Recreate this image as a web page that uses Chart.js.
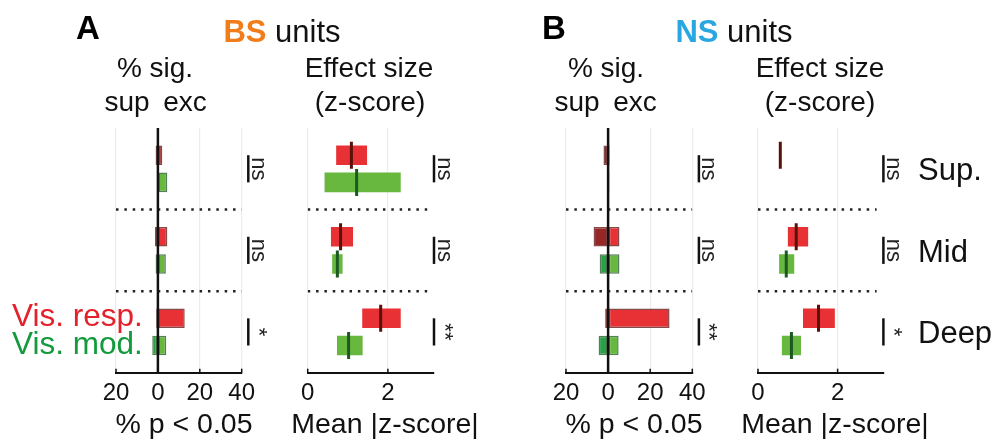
<!DOCTYPE html>
<html>
<head>
<meta charset="utf-8">
<script src="https://cdn.jsdelivr.net/npm/chart.js@4.4.1/dist/chart.umd.min.js"></script>
<style>
  body { margin: 0; background: #fff; font-family: "Liberation Sans", Arial, sans-serif; }
  #wrap { position: relative; width: 997px; height: 445px; overflow: hidden; }
  canvas { position: absolute; left: 0; top: 0; }
  .t { position: absolute; white-space: nowrap; line-height: 1; color: #111; transform: translate(-50%, -50%); }
  .l { position: absolute; white-space: nowrap; line-height: 1; transform: translate(0, -50%); }
</style>
</head>
<body>
<div id="wrap">
  <canvas id="bsPct" width="997" height="445"></canvas>
  <canvas id="bsEff" width="997" height="445"></canvas>
  <canvas id="nsPct" width="997" height="445"></canvas>
  <canvas id="nsEff" width="997" height="445"></canvas>

  <div class="l" style="left:76px; top:27px; font-size:33px; font-weight:bold;">A</div>
  <div class="t" style="left:282px; top:31px; font-size:31px;"><b style="color:#f07d1a">BS</b> units</div>
  <div class="t" style="left:155px; top:68px; font-size:28px;">% sig.</div>
  <div class="t" style="left:127px; top:102px; font-size:28px;">sup</div>
  <div class="t" style="left:185px; top:102px; font-size:28px;">exc</div>
  <div class="t" style="left:369px; top:68px; font-size:28px;">Effect size</div>
  <div class="t" style="left:370px; top:102px; font-size:28px;">(z-score)</div>
  <div class="t" style="left:184px; top:423px; font-size:28.5px;">% p &lt; 0.05</div>
  <div class="t" style="left:385px; top:423px; font-size:28.5px;">Mean |z-score|</div>

  <div class="l" style="left:542px; top:27px; font-size:33px; font-weight:bold;">B</div>
  <div class="t" style="left:734px; top:31px; font-size:31px;"><b style="color:#2aa6e0">NS</b> units</div>
  <div class="t" style="left:606px; top:68px; font-size:28px;">% sig.</div>
  <div class="t" style="left:577px; top:102px; font-size:28px;">sup</div>
  <div class="t" style="left:635px; top:102px; font-size:28px;">exc</div>
  <div class="t" style="left:820px; top:68px; font-size:28px;">Effect size</div>
  <div class="t" style="left:820px; top:102px; font-size:28px;">(z-score)</div>
  <div class="t" style="left:634px; top:423px; font-size:28.5px;">% p &lt; 0.05</div>
  <div class="t" style="left:835px; top:423px; font-size:28.5px;">Mean |z-score|</div>

  <div class="l" style="left:918px; top:169px; font-size:31px; color:#111;">Sup.</div>
  <div class="l" style="left:918px; top:251px; font-size:31px; color:#111;">Mid</div>
  <div class="l" style="left:918px; top:332px; font-size:31px; color:#111;">Deep</div>

  <div class="l" style="left:12px; top:316px; font-size:31.5px; color:#e4202a;">Vis. resp.</div>
  <div class="l" style="left:12px; top:344px; font-size:31.5px; color:#129a3d;">Vis. mod.</div>
</div>

<script>
// depth groups, top to bottom
const depths = ["Sup.", "Mid", "Deep"];
const redRows = [0, 3, 6];     // y slot of the "Vis. resp." bar in each group
const greenRows = [1, 4, 7];   // y slot of the "Vis. mod." bar
const sepRows = [2, 5];

// BS units, % of units with p < 0.05 (sup = suppressed, drawn negative; exc = excited)
const bsSupResp = [-1.1, -1.4, -0.8];
const bsExcResp = [2.1, 4.5, 12.8];
const bsSupMod = [0, -1.1, -2.7];
const bsExcMod = [4.5, 3.8, 4.0];

// BS units, effect size (mean |z-score|): box low, box high, mean
const bsEffRespLo = [0.71, 0.58, 1.36];
const bsEffRespHi = [1.48, 1.13, 2.32];
const bsEffRespMean = [1.09, 0.82, 1.82];
const bsEffModLo = [0.42, 0.61, 0.73];
const bsEffModHi = [2.32, 0.87, 1.37];
const bsEffModMean = [1.22, 0.74, 1.02];

// NS units
const nsSupResp = [-2.2, -6.9, -1.4];
const nsExcResp = [0.7, 5.4, 29.2];
const nsSupMod = [0, -4.0, -4.5];
const nsExcMod = [0.6, 5.4, 5.0];

const nsEffRespLo = [0.56, 0.75, 1.13];
const nsEffRespHi = [0.56, 1.26, 1.93];
const nsEffRespMean = [0.56, 0.96, 1.52];
const nsEffModLo = [null, 0.53, 0.60];
const nsEffModHi = [null, 0.91, 1.08];
const nsEffModMean = [null, 0.71, 0.84];

// significance labels per depth
const bsPctSig = ["ns", "ns", "*"];
const bsEffSig = ["ns", "ns", "**"];
const nsPctSig = ["ns", "ns", "**"];
const nsEffSig = ["ns", "ns", "*"];

// x axis ticks
const pctTicks = [-20, 0, 20, 40];
const effTicks = [0, 2];

Chart.defaults.font.family = '"Liberation Sans", Arial, sans-serif';
Chart.defaults.color = "#111";

const RED = "rgba(229,33,37,0.93)";
const RED_DARK = "rgba(145,26,26,0.95)";
const RED_EDGE = "rgba(95,12,12,0.75)";
const RED_MEAN = "#5a110a";
const GREEN = "rgba(92,177,48,0.93)";
const GREEN_DARK = "rgba(30,156,62,0.95)";
const GREEN_EDGE = "rgba(25,85,30,0.75)";
const GREEN_MEAN = "#1b5822";

// extra drawing: zero line, inward ticks, significance brackets
const extrasPlugin = {
    id: "extras",
    afterDatasetsDraw(chart, args, opts) {
        const { ctx, chartArea } = chart;
        const x = chart.scales.x;
        const y = chart.scales.y;
        ctx.save();
        if (opts.zeroLine) {
            const zx = x.getPixelForValue(0);
            ctx.strokeStyle = "#111";
            ctx.lineWidth = 2.5;
            ctx.beginPath();
            ctx.moveTo(zx, chartArea.top);
            ctx.lineTo(zx, chartArea.bottom);
            ctx.stroke();
        }
        // ticks pointing up into the plot
        ctx.strokeStyle = "#111";
        ctx.lineWidth = 1.5;
        opts.ticks.forEach((t) => {
            const tx = x.getPixelForValue(t);
            ctx.beginPath();
            ctx.moveTo(tx, chartArea.bottom);
            ctx.lineTo(tx, chartArea.bottom - 4);
            ctx.stroke();
        });
        const bx = chartArea.right + opts.offset;
        opts.labels.forEach((lab, g) => {
            const y0 = y.getPixelForValue(redRows[g]);
            const y1 = y.getPixelForValue(greenRows[g]);
            ctx.strokeStyle = "#111";
            ctx.lineWidth = 2.5;
            ctx.beginPath();
            ctx.moveTo(bx, y0);
            ctx.lineTo(bx, y1);
            ctx.stroke();
            ctx.save();
            ctx.translate(bx + 3.5, (y0 + y1) / 2);
            ctx.rotate(Math.PI / 2);
            ctx.font = '22px "Liberation Sans", Arial, sans-serif';
            ctx.fillStyle = "#222";
            ctx.textAlign = "center";
            ctx.textBaseline = "alphabetic";
            ctx.fillText(lab, 0, 0);
            ctx.restore();
        });
        ctx.restore();
    },
};

function separatorSets(xmin, xmax) {
    return sepRows.map((r) => ({
        type: "line",
        data: [{ x: xmin, y: r }, { x: xmax, y: r }],
        borderColor: "#222",
        borderWidth: 2.5,
        borderDash: [2.5, 5.86],
        pointRadius: 0,
        order: 5,
    }));
}

function pctBar(rows, lo, hi, color, edge) {
    const data = [];
    rows.forEach((r, g) => {
        if (lo[g] !== hi[g]) data.push({ x: [lo[g], hi[g]], y: r });
    });
    return {
        type: "bar",
        data: data,
        backgroundColor: color,
        borderColor: edge,
        borderWidth: 1.5,
        borderSkipped: false,
        grouped: false,
        maxBarThickness: 22,
        order: 2,
    };
}

function makeScales(xmin, xmax, step) {
    return {
        x: {
            type: "linear",
            min: xmin,
            max: xmax,
            stacked: false,
            afterFit: (s) => { s.height = 40; },
            grid: {
                color: "#ececec",
                lineWidth: 1.2,
                drawTicks: false,
            },
            border: { display: true, color: "#111", width: 2 },
            ticks: {
                stepSize: step,
                includeBounds: false,
                padding: 6,
                font: { size: 24 },
                color: "#111",
                callback: (v) => Math.abs(v),
            },
        },
        y: {
            type: "linear",
            min: -1,
            max: 8,
            reverse: true,
            offset: false,
            display: false,
            ticks: { stepSize: 1 },
        },
    };
}

function pctChart(id, supResp, excResp, supMod, excMod, sig, left, right) {
    const zeros = [0, 0, 0];
    // thin bars on the top row are drawn all dark
    const excRespColor = [RED_DARK, RED, RED];
    const excRespSet = pctBar(redRows, zeros, excResp, RED, RED_EDGE);
    excRespSet.backgroundColor = excRespSet.data.map((d) => excRespColor[redRows.indexOf(d.y)]);
    new Chart(document.getElementById(id), {
        type: "bar",
        data: {
            datasets: [
                pctBar(redRows, supResp, zeros, RED_DARK, RED_EDGE),
                excRespSet,
                pctBar(greenRows, supMod, zeros, GREEN_DARK, GREEN_EDGE),
                pctBar(greenRows, zeros, excMod, GREEN, GREEN_EDGE),
                ...separatorSets(-20, 40),
            ],
        },
        options: {
            indexAxis: "y",
            responsive: false,
            animation: false,
            events: [],
            layout: { padding: { left: left, right: 997 - right, top: 128, bottom: 445 - 372.7 - 40 } },
            scales: makeScales(-20, 40, 20),
            plugins: {
                legend: { display: false },
                tooltip: { enabled: false },
                extras: { zeroLine: true, ticks: pctTicks, labels: sig, offset: 6.6 },
            },
        },
        plugins: [extrasPlugin],
    });
}

function effChart(id, rLo, rHi, rMean, mLo, mHi, mMean, sig, left, right) {
    const boxes = (rows, lo, hi, color) => ({
        type: "bar",
        data: rows.map((r, g) => (lo[g] === null ? null : { x: [lo[g], hi[g]], y: r })).filter((d) => d),
        backgroundColor: color,
        borderWidth: 0,
        grouped: false,
        maxBarThickness: 22,
        order: 3,
    });
    const means = (rows, m, color) => ({
        type: "line",
        data: rows.map((r, g) => (m[g] === null ? null : { x: m[g], y: r })).filter((d) => d),
        showLine: false,
        pointStyle: "line",
        pointRotation: 90,
        pointRadius: 13.5,
        pointBorderWidth: 3,
        pointBorderColor: color,
        pointBackgroundColor: color,
        order: 1,
    });
    new Chart(document.getElementById(id), {
        type: "bar",
        data: {
            datasets: [
                boxes(redRows, rLo, rHi, RED),
                boxes(greenRows, mLo, mHi, GREEN),
                means(redRows, rMean, RED_MEAN),
                means(greenRows, mMean, GREEN_MEAN),
                ...separatorSets(0, 2.98),
            ],
        },
        options: {
            indexAxis: "y",
            responsive: false,
            animation: false,
            events: [],
            layout: { padding: { left: left, right: 997 - right, top: 128, bottom: 445 - 372.7 - 40 } },
            scales: makeScales(0, 3.15, 2),
            plugins: {
                legend: { display: false },
                tooltip: { enabled: false },
                extras: { zeroLine: false, ticks: effTicks, labels: sig, offset: 0 },
            },
        },
        plugins: [extrasPlugin],
    });
}

pctChart("bsPct", bsSupResp, bsExcResp, bsSupMod, bsExcMod, bsPctSig, 116, 241.7);
effChart("bsEff", bsEffRespLo, bsEffRespHi, bsEffRespMean, bsEffModLo, bsEffModHi, bsEffModMean, bsEffSig, 307.7, 434);
pctChart("nsPct", nsSupResp, nsExcResp, nsSupMod, nsExcMod, nsPctSig, 566, 692.3);
effChart("nsEff", nsEffRespLo, nsEffRespHi, nsEffRespMean, nsEffModLo, nsEffModHi, nsEffModMean, nsEffSig, 758, 883.4);
</script>
</body>
</html>
